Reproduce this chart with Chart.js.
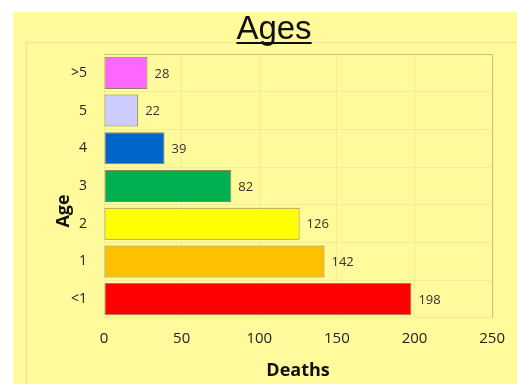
<!DOCTYPE html>
<html>
<head>
<meta charset="utf-8">
<script src="https://cdn.jsdelivr.net/npm/chart.js@4"></script>
<style>
  html, body { margin: 0; padding: 0; background: #fff; }
  #wrap { width: 517px; height: 384px; }
</style>
</head>
<body>
<div id="wrap"><canvas id="ages"></canvas></div>
<script>
const ageGroups = [">5", "5", "4", "3", "2", "1", "<1"];
const deaths = [28, 22, 39, 82, 126, 142, 198];
const barColors = ["#ff66ff", "#ccccff", "#0066cc", "#00b050", "#ffff00", "#ffc000", "#ff0000"];
const xTicks = [0, 50, 100, 150, 200, 250];

const font = "'Open Sans', 'Noto Sans', sans-serif";

// yellow panel, title, axis title and value labels
const decor = {
  id: "decor",
  beforeDraw(chart) {
    const c = chart.ctx;
    c.save();
    c.fillStyle = "#fffa9c";
    c.fillRect(13, 12, 504, 372);
    c.strokeStyle = "rgba(190,185,120,0.3)";
    c.lineWidth = 1;
    c.strokeRect(26.5, 42.5, 500, 360);
    c.restore();
  },
  afterDraw(chart) {
    const c = chart.ctx;
    c.save();
    // title
    c.fillStyle = "#111";
    c.font = "33px 'Liberation Sans', Arial, sans-serif";
    c.textAlign = "center";
    c.textBaseline = "alphabetic";
    c.fillText("Ages", 274, 39);
    const w = c.measureText("Ages").width;
    c.fillRect(274 - w / 2, 42, w, 2);
    // y axis title
    c.font = "bold 18px " + font;
    c.translate(64, 211);
    c.rotate(-Math.PI / 2);
    c.textBaseline = "middle";
    c.fillText("Age", 0, 0);
    c.restore();

    // value labels
    c.save();
    c.font = "13px " + font;
    c.fillStyle = "#333";
    c.textAlign = "left";
    c.textBaseline = "middle";
    chart.getDatasetMeta(0).data.forEach((bar, i) => {
      c.fillText(String(deaths[i]), bar.x + 7, bar.y + 1);
    });
    c.restore();
  }
};

new Chart(document.getElementById("ages"), {
  type: "bar",
  data: {
    labels: ageGroups,
    datasets: [{
      data: deaths,
      backgroundColor: barColors,
      borderColor: "#8c8460",
      borderWidth: 1,
      borderSkipped: false,
      barPercentage: 0.85,
      categoryPercentage: 1
    }]
  },
  options: {
    indexAxis: "y",
    responsive: true,
    maintainAspectRatio: false,
    animation: false,
    layout: { padding: { top: 54, right: 23, left: 0, bottom: 0 } },
    plugins: {
      legend: { display: false },
      tooltip: { enabled: false }
    },
    scales: {
      x: {
        min: 0,
        max: 250,
        afterBuildTicks(scale) {
          scale.ticks = xTicks.map(v => ({ value: v }));
        },
        afterFit(scale) { scale.height = 66; },
        grid: { color: "rgba(215,210,140,0.3)", drawTicks: false },
        border: { display: false },
        ticks: { color: "#222", padding: 12, font: { family: font, size: 15 } },
        title: {
          display: true,
          text: "Deaths",
          color: "#111",
          padding: { top: 0, bottom: 2 },
          font: { family: font, size: 18, weight: "bold" }
        }
      },
      y: {
        afterFit(scale) { scale.width = 104; },
        grid: { color: "rgba(215,210,140,0.3)", drawTicks: false, offset: true },
        border: { display: false },
        ticks: { color: "#222", padding: 17, font: { family: font, size: 14 } }
      }
    }
  },
  plugins: [decor, {
    id: "frame",
    afterDatasetsDraw(chart) {
      const a = chart.chartArea;
      const c = chart.ctx;
      c.save();
      c.strokeStyle = "#c9c07c";
      c.lineWidth = 1;
      c.beginPath();
      c.moveTo(a.left, a.top + 0.5);
      c.lineTo(a.right + 0.5, a.top + 0.5);
      c.lineTo(a.right + 0.5, a.bottom);
      c.stroke();
      c.restore();
    }
  }]
});
</script>
</body>
</html>
